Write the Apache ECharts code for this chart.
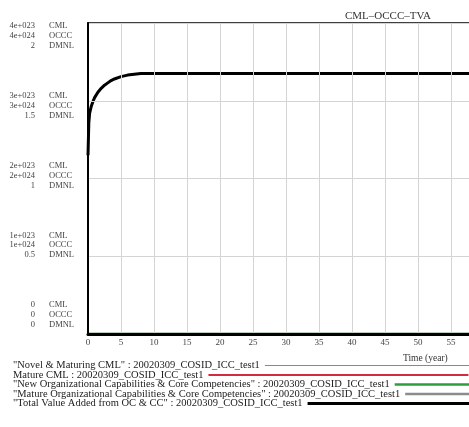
<!DOCTYPE html>
<html>
<head>
<meta charset="utf-8">
<script src="https://cdn.jsdelivr.net/npm/echarts@6/dist/echarts.min.js"></script>
<style>
  html, body { margin: 0; padding: 0; background: #fff; }
  #chart { width: 469px; height: 427px; }
</style>
</head>
<body>
<div id="chart"></div>
<script>
// time axis (year)
var times = [0, 0.125, 0.25, 0.5, 0.75, 1, 1.5, 2, 2.5, 3, 3.5, 4, 5, 6, 7, 8, 9, 10, 15, 20, 25, 30, 35, 40, 45, 50, 55, 60];
// Total Value Added, read in plot units (0..4 grid)
var tvaValues = [2.30, 2.72, 2.84, 2.93, 2.99, 3.04, 3.11, 3.16, 3.20, 3.23, 3.26, 3.28, 3.31, 3.33, 3.34, 3.35, 3.35, 3.35, 3.35, 3.35, 3.35, 3.35, 3.35, 3.35, 3.35, 3.35, 3.35, 3.35];
// the other runs lie on the zero line
var novelCml = [0, 0, 0, 0, 0, 0, 0, 0, 0, 0, 0, 0, 0, 0, 0, 0, 0, 0, 0, 0, 0, 0, 0, 0, 0, 0, 0, 0];
var matureCml = [0, 0, 0, 0, 0, 0, 0, 0, 0, 0, 0, 0, 0, 0, 0, 0, 0, 0, 0, 0, 0, 0, 0, 0, 0, 0, 0, 0];
var newOcc = [0, 0, 0, 0, 0, 0, 0, 0, 0, 0, 0, 0, 0, 0, 0, 0, 0, 0, 0, 0, 0, 0, 0, 0, 0, 0, 0, 0];
var matureOcc = [0, 0, 0, 0, 0, 0, 0, 0, 0, 0, 0, 0, 0, 0, 0, 0, 0, 0, 0, 0, 0, 0, 0, 0, 0, 0, 0, 0];

// multi-scale tick labels
var cmlTicks = ['0', '1e+023', '2e+023', '3e+023', '4e+023'];
var occcTicks = ['0', '1e+024', '2e+024', '3e+024', '4e+024'];
var dmnlTicks = ['0', '0.5', '1', '1.5', '2'];
var unitNames = ['CML', 'OCCC', 'DMNL'];

var seriesNames = [
  '"Novel & Maturing CML" : 20020309_COSID_ICC_test1',
  'Mature CML : 20020309_COSID_ICC_test1',
  '"New Organizational Capabilities & Core Competencies" : 20020309_COSID_ICC_test1',
  '"Mature Organizational Capabilities & Core Competencies" : 20020309_COSID_ICC_test1',
  '"Total Value Added from OC & CC" : 20020309_COSID_ICC_test1'
];
var seriesColors = ['#8a7cc8', '#d42a3e', '#2f9e3c', '#8c8c8c', '#000000'];
var seriesWidths = [1, 2, 2.5, 2.5, 3];

function pairs(vals) {
  return times.map(function (t, i) { return [t, vals[i]]; });
}

var FONT = '"Liberation Serif", "DejaVu Serif", serif';
var myChart = echarts.init(document.getElementById('chart'));

var allData = [novelCml, matureCml, newOcc, matureOcc, tvaValues];
var series = allData.map(function (vals, i) {
  return {
    name: seriesNames[i],
    type: 'line',
    data: pairs(vals),
    showSymbol: false,
    lineStyle: { color: seriesColors[i], width: seriesWidths[i] },
    itemStyle: { color: seriesColors[i] },
    z: 2 + i
  };
});

// one legend block per run so each text is followed by its own line sample
var legendTops = [360, 369.5, 379, 388.5, 398];
var legends = seriesNames.map(function (n, i) {
  return {
    orient: 'horizontal',
    left: 13, top: legendTops[i],
    align: 'right',
    padding: 0,
    itemWidth: 260,
    itemHeight: 6,
    selectedMode: false,
    textStyle: { fontFamily: FONT, fontSize: 10.5, color: '#222', lineHeight: 10 },
    data: [{ name: n, icon: 'path://M0 0H260V' + seriesWidths[i] + 'H0Z', itemStyle: { color: seriesColors[i] } }]
  };
});

var option = {
  animation: false,
  backgroundColor: '#fff',
  title: [
    {
      text: 'CML–OCCC–TVA',
      left: 340, top: 6,
      textStyle: { fontFamily: FONT, fontSize: 11, fontWeight: 'normal', color: '#333' }
    },
    {
      text: 'Time (year)',
      left: 398, top: 348,
      textStyle: { fontFamily: FONT, fontSize: 9.5, fontWeight: 'normal', color: '#333' }
    }
  ],
  grid: {
    left: 88, top: 23, bottom: 93, right: -15,
    outerBoundsMode: 'none',
    show: true, borderColor: '#000', borderWidth: 1.5
  },
  legend: legends,
  xAxis: {
    type: 'value',
    min: 0, max: 60, interval: 5,
    z: 10,
    axisLine: { show: true, lineStyle: { color: '#000', width: 3 } },
    axisTick: { show: false },
    axisLabel: { margin: 4, fontFamily: FONT, fontSize: 9, color: '#444' },
    splitLine: { show: true, lineStyle: { color: '#d4d4d4', width: 1 } }
  },
  yAxis: [
    {
      type: 'value',
      min: 0, max: 4, interval: 1,
      z: 10,
      axisLine: { show: true, lineStyle: { color: '#000', width: 2 } },
      axisTick: { show: false },
      axisLabel: { show: false },
      splitLine: { show: true, lineStyle: { color: '#d4d4d4', width: 1 } }
    },
    {
      // number column of the stacked scale labels
      type: 'value',
      position: 'left',
      min: -0.272, max: 4.186,
      axisLine: { show: false },
      axisTick: { show: false },
      splitLine: { show: false },
      axisLabel: {
        customValues: [0, 1, 2, 3, 4],
        margin: 53,
        align: 'right',
        fontFamily: FONT, fontSize: 8.5, color: '#444', lineHeight: 9.8,
        formatter: function (v) {
          var i = Math.round(v);
          return cmlTicks[i] + '\n' + occcTicks[i] + '\n' + dmnlTicks[i];
        }
      }
    },
    {
      // unit column of the stacked scale labels
      type: 'value',
      position: 'left',
      min: -0.272, max: 4.186,
      axisLine: { show: false },
      axisTick: { show: false },
      splitLine: { show: false },
      axisLabel: {
        customValues: [0, 1, 2, 3, 4],
        margin: 39,
        align: 'left',
        fontFamily: FONT, fontSize: 8.5, color: '#444', lineHeight: 9.8,
        formatter: function () { return unitNames.join('\n'); }
      }
    }
  ],
  series: series
};

myChart.setOption(option);
</script>
</body>
</html>
